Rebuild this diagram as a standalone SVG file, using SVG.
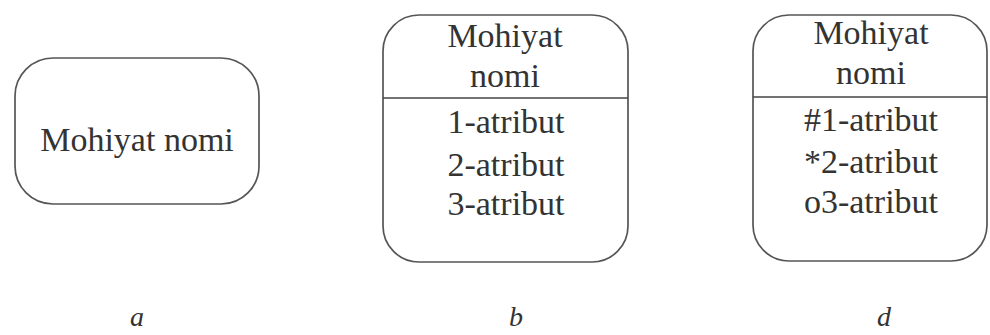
<svg xmlns="http://www.w3.org/2000/svg" width="990" height="335" viewBox="0 0 990 335">
<style>
.box{fill:none;stroke:#555;stroke-width:1.7}
.div{stroke:#444;stroke-width:1.7}
.t{font-family:"Liberation Serif","Times New Roman",serif;font-size:34px;fill:#333;text-anchor:middle}
.lbl{font-family:"Liberation Serif","Times New Roman",serif;font-size:28px;font-style:italic;fill:#333;text-anchor:middle}
</style>
<rect width="990" height="335" fill="#fff"/>
<g id="node-a">
<rect class="box" x="15" y="58" width="244" height="146" rx="38"/>
<text class="t" x="137" y="151">Mohiyat nomi</text>
</g>
<g id="node-b">
<rect class="box" x="383" y="15" width="245" height="247" rx="36"/>
<line class="div" x1="383" y1="98" x2="628" y2="98"/>
<text class="t" x="505" y="47">Mohiyat</text>
<text class="t" x="505" y="87">nomi</text>
<text class="t" x="506" y="133">1-atribut</text>
<text class="t" x="506" y="176">2-atribut</text>
<text class="t" x="506" y="215">3-atribut</text>
</g>
<g id="node-d">
<rect class="box" x="753" y="15" width="234" height="246" rx="36"/>
<line class="div" x1="753" y1="97" x2="987" y2="97"/>
<text class="t" x="871" y="44">Mohiyat</text>
<text class="t" x="871" y="84">nomi</text>
<text class="t" x="871" y="131">#1-atribut</text>
<text class="t" x="871" y="173">*2-atribut</text>
<text class="t" x="871" y="213">o3-atribut</text>
</g>
<g id="connectors"></g>
<g id="labels">
<text class="lbl" x="137" y="326">a</text>
<text class="lbl" x="516" y="326">b</text>
<text class="lbl" x="884" y="326">d</text>
</g>
</svg>
